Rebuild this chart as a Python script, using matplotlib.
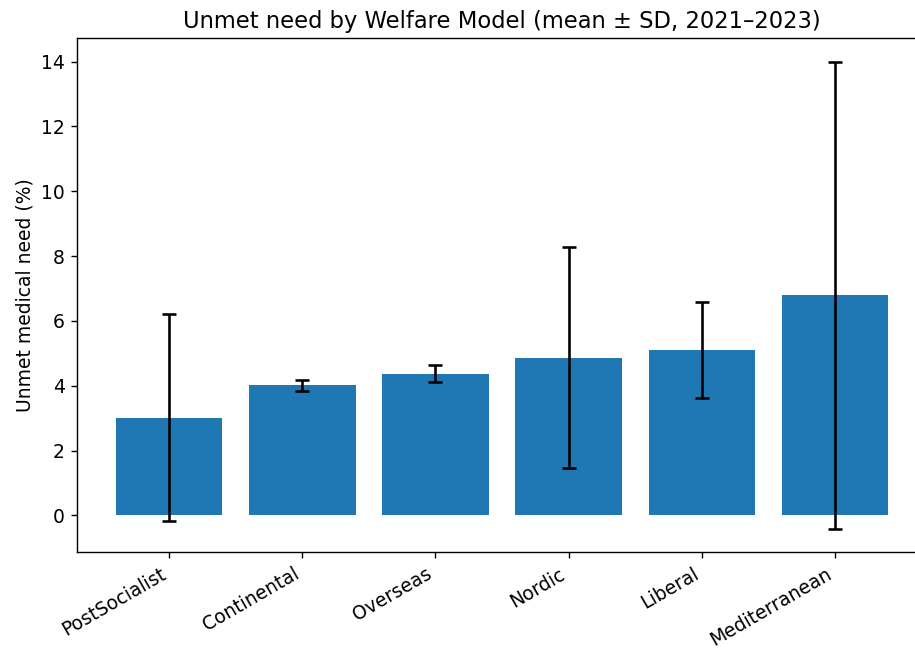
import numpy as np
import matplotlib.pyplot as plt

# среднее и стандартное отклонение по моделям
models = ['PostSocialist', 'Continental', 'Overseas', 'Nordic', 'Liberal', 'Mediterranean']
mean_need = [3.01, 4.01, 4.37, 4.87, 5.11, 6.79]
sd_need = [3.19, 0.17, 0.27, 3.40, 1.48, 7.21]

plt.rcParams['font.size'] = 10.8

fig = plt.figure(figsize=(7.32, 5.192), dpi=125)
# правый край осей уходит за границу картинки
ax = fig.add_axes([0.0842, 0.149, 0.929, 0.792])

x = np.arange(len(models))
ax.bar(x, mean_need, yerr=sd_need, capsize=4, color='#1f77b4',
       error_kw=dict(elinewidth=1.5, capthick=1.5, ecolor='black'))

ax.set_xticks(x)
ax.set_xticklabels(models, rotation=30, ha='right')
ax.set_ylabel('Unmet medical need (%)')
ax.set_title('Unmet need by Welfare Model (mean \u00b1 SD, 2021\u20132023)', fontsize=13)

plt.savefig('out.png', dpi=125)
plt.close()
